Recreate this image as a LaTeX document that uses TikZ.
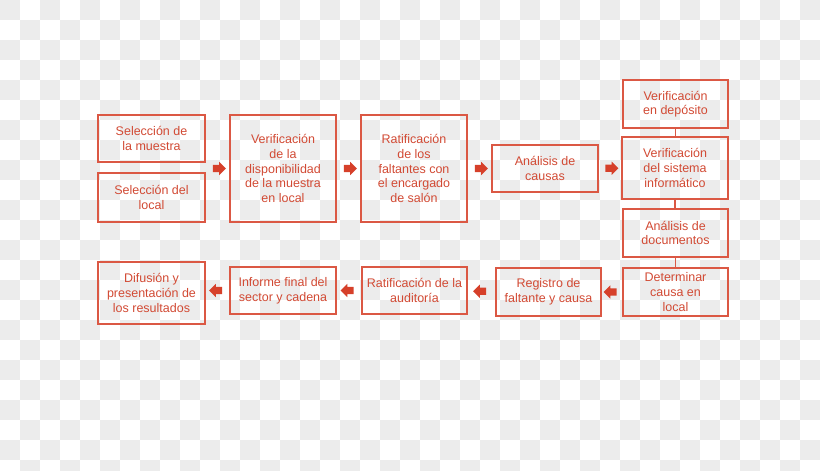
\documentclass[tikz,border=0pt]{standalone}
\usepackage{fontspec}
\setmainfont{Liberation Sans}
\usetikzlibrary{shapes.arrows,calc}
\definecolor{txtcol}{RGB}{210,74,52}
\definecolor{boxcol}{RGB}{219,88,68}
\definecolor{arrcol}{RGB}{214,64,42}
\definecolor{checkgray}{RGB}{236,236,236}
\tikzset{
  stepbox/.style={draw=boxcol, line width=1.3pt, text=txtcol, align=center,
    inner sep=0pt, font=\fontsize{12.5}{14.6}\selectfont},
  rarrow/.style={single arrow, fill=arrcol, draw=none, inner sep=3.5pt,
    minimum height=13pt, minimum width=13pt, single arrow head extend=3pt},
  larrow/.style={rarrow, shape border rotate=180},
  vlink/.style={draw=boxcol, line width=1.6pt}
}
\begin{document}
\begin{tikzpicture}[x=1pt,y=-1pt]
\useasboundingbox (0,0) rectangle (820,471);
\begin{scope}
\clip (0,0) rectangle (820,471);
\fill[white] (0,0) rectangle (820,471);
\foreach \j in {0,...,23}{
  \pgfmathtruncatemacro\s{mod(\j,2)}
  \foreach \k in {0,...,20}{
    \pgfmathsetmacro\xx{(2*\k+\s)*20}
    \fill[checkgray] (\xx,\j*20) rectangle ++(20,20);
  }
}
\end{scope}

\node[stepbox, minimum width=107pt, minimum height=47pt] (b1) at (151.5,138.5) {Selección de\\la muestra};
\node[stepbox, minimum width=107pt, minimum height=49pt] (b2) at (151.5,197.5) {Selección del\\local};
\node[stepbox, minimum width=106pt, minimum height=107pt] (b3) at (283,168.5) {Verificación\\de la\\disponibilidad\\de la muestra\\en local};
\node[stepbox, minimum width=106pt, minimum height=107pt] (b4) at (414,168.5) {Ratificación\\de los\\faltantes con\\el encargado\\de salón};
\node[stepbox, minimum width=106pt, minimum height=47pt] (b5) at (545,168.5) {Análisis de\\causas};
\node[stepbox, minimum width=105pt, minimum height=48pt] (b6) at (675.5,104) {Verificación\\en depósito};
\node[stepbox, minimum width=106pt, minimum height=62pt] (b7) at (675,168) {Verificación\\del sistema\\informático};
\node[stepbox, minimum width=105pt, minimum height=48pt] (b8) at (675.5,233) {Análisis de\\documentos};
\node[stepbox, minimum width=105pt, minimum height=48pt] (b9) at (675.5,292) {Determinar\\causa en\\local};
\node[stepbox, minimum width=105pt, minimum height=48pt] (b10) at (548.5,292) {Registro de\\faltante y causa};
\node[stepbox, minimum width=105pt, minimum height=47pt] (b11) at (414.5,290.5) {Ratificación de la\\auditoría};
\node[stepbox, minimum width=106pt, minimum height=47pt] (b12) at (283,290.5) {Informe final del\\sector y cadena};
\node[stepbox, minimum width=107pt, minimum height=62pt] (b13) at (151.5,293) {Difusión y\\presentación de\\los resultados};

\draw[vlink] (b6.south) -- (b6.south |- b7.north);
\draw[vlink] (b7.south) -- (b7.south |- b8.north);
\draw[vlink] (b8.south) -- (b8.south |- b9.north);

\node[rarrow] (a1) at ($(b2.east |- b3.west)!0.5!(b3.west)$) {};
\node[rarrow] (a2) at ($(b3.east)!0.5!(b4.west)$) {};
\node[rarrow] (a3) at ($(b4.east)!0.5!(b5.west)$) {};
\node[rarrow] (a4) at ($(b5.east)!0.5!(b7.west)$) {};
\node[larrow] (a5) at ($(b9.west)!0.5!(b10.east)$) {};
\node[larrow] (a6) at ($(b10.west)!0.5!(b11.east)$) {};
\node[larrow] (a7) at ($(b11.west)!0.5!(b12.east)$) {};
\node[larrow] (a8) at ($(b12.west)!0.5!(b13.east |- b12.west)$) {};
\end{tikzpicture}
\end{document}
